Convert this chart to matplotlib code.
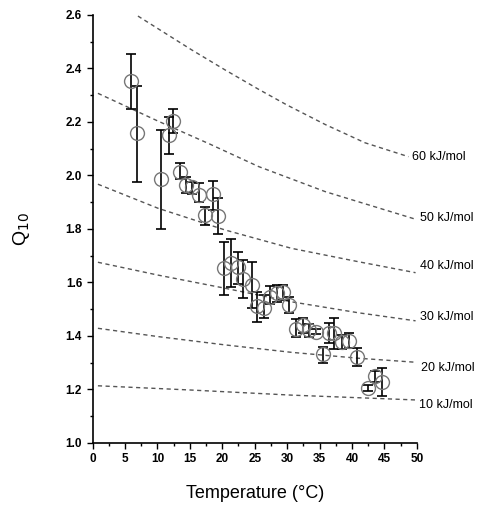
import matplotlib

matplotlib.use("Agg")

import matplotlib.pyplot as plt
import numpy as np

plt.rcParams["font.family"] = ["Liberation Sans", "DejaVu Sans"]

# measured Q10 vs temperature
temp_c = [5.98, 6.86, 10.5, 11.75, 12.4, 13.45, 14.4, 15.4, 16.4, 17.3, 18.6, 19.3,
          20.3, 21.4, 22.4, 23.2, 24.6, 25.4, 26.4, 27.4, 28.4, 29.4, 30.35, 31.3,
          32.4, 33.4, 34.4, 35.5, 36.4, 37.3, 38.4, 39.5, 40.8, 42.4, 43.5, 44.6]
q10 = [2.353, 2.157, 1.985, 2.151, 2.203, 2.014, 1.964, 1.958, 1.927, 1.852, 1.929, 1.848,
       1.652, 1.673, 1.658, 1.612, 1.590, 1.513, 1.505, 1.546, 1.559, 1.565, 1.515, 1.424,
       1.440, 1.422, 1.415, 1.331, 1.412, 1.409, 1.378, 1.380, 1.322, 1.204, 1.250, 1.228]
q10_low = [2.247, 1.974, 1.800, 2.080, 2.160, 1.986, 1.934, 1.930, 1.900, 1.813, 1.870, 1.781,
           1.552, 1.584, 1.594, 1.540, 1.503, 1.450, 1.465, 1.520, 1.527, 1.534, 1.484, 1.394,
           1.409, 1.394, 1.405, 1.300, 1.372, 1.349, 1.349, 1.353, 1.287, 1.195, 1.228, 1.175]
q10_high = [2.453, 2.334, 2.170, 2.220, 2.248, 2.047, 1.995, 1.974, 1.973, 1.883, 1.979, 1.914,
            1.752, 1.761, 1.715, 1.684, 1.677, 1.565, 1.553, 1.586, 1.590, 1.590, 1.546, 1.462,
            1.465, 1.444, 1.425, 1.357, 1.447, 1.465, 1.403, 1.409, 1.353, 1.215, 1.269, 1.278]

# reference curves for constant activation energy
ea_labels = ["60 kJ/mol", "50 kJ/mol", "40 kJ/mol", "30 kJ/mol", "20 kJ/mol", "10 kJ/mol"]
curve_x = [
    [7.0, 15.25, 20.4, 25.6, 30.0, 35.9, 42.0, 48.7],
    [0.83, 10.1, 18.0, 25.6, 35.9, 49.8],
    [0.83, 10.1, 20.4, 30.7, 41.0, 49.8],
    [0.83, 10.1, 20.4, 30.7, 41.0, 49.8],
    [0.83, 10.1, 20.4, 30.7, 41.0, 49.8],
    [0.83, 15.25, 30.7, 49.8],
]
curve_y = [
    [2.596, 2.470, 2.395, 2.322, 2.263, 2.190, 2.122, 2.070],
    [2.307, 2.203, 2.118, 2.033, 1.939, 1.836],
    [1.967, 1.877, 1.796, 1.727, 1.677, 1.636],
    [1.675, 1.627, 1.578, 1.527, 1.486, 1.456],
    [1.428, 1.397, 1.366, 1.338, 1.316, 1.301],
    [1.213, 1.197, 1.178, 1.160],
]
label_x = [49.3, 50.5, 50.5, 50.5, 50.6, 50.4]
label_y = [2.07, 1.84, 1.66, 1.47, 1.28, 1.14]

fig = plt.figure(figsize=(4.87, 5.08), dpi=100)
ax = fig.add_axes([0.190, 0.1285, 0.666, 0.842])

for xs, ys in zip(curve_x, curve_y):
    ax.plot(xs, ys, color="#555555", lw=1.0, ls=(0, (3, 2.5)), zorder=1)

t = np.array(temp_c)
q = np.array(q10)
yerr = [q - np.array(q10_low), np.array(q10_high) - q]
ax.errorbar(t, q, yerr=yerr, fmt="none", ecolor="black", elinewidth=1.2,
            capsize=3.5, capthick=1.2, zorder=2)
ax.plot(t, q, ls="none", marker="o", markersize=10, markerfacecolor="none",
        markeredgecolor="#777777", markeredgewidth=1.0, zorder=3)

for lab, lx, ly in zip(ea_labels, label_x, label_y):
    ax.text(lx, ly, lab, fontsize=9, ha="left", va="center", clip_on=False)

ax.set_xlim(0, 50)
ax.set_ylim(1.0, 2.6)
ax.set_xticks(np.arange(0, 51, 5))
ax.set_xticks(np.arange(0, 51, 2.5), minor=True)
ax.set_yticks(np.arange(1.0, 2.61, 0.2))
ax.set_yticks(np.arange(1.0, 2.61, 0.1), minor=True)
ax.set_yticklabels([f"{v:.1f}" for v in np.arange(1.0, 2.61, 0.2)])
ax.tick_params(which="major", direction="out", length=4, width=1, labelsize=8.5)
ax.tick_params(which="minor", direction="out", length=2.5, width=1)
for lbl in ax.get_xticklabels() + ax.get_yticklabels():
    lbl.set_fontweight("bold")
ax.spines["top"].set_visible(False)
ax.spines["right"].set_visible(False)
ax.spines["left"].set_linewidth(1.2)
ax.spines["bottom"].set_linewidth(1.2)

ax.set_xlabel("Temperature (°C)", fontsize=13, labelpad=14)
ax.set_ylabel("Q$_{10}$", fontsize=14, labelpad=24)

fig.savefig("out.png", dpi=100)
